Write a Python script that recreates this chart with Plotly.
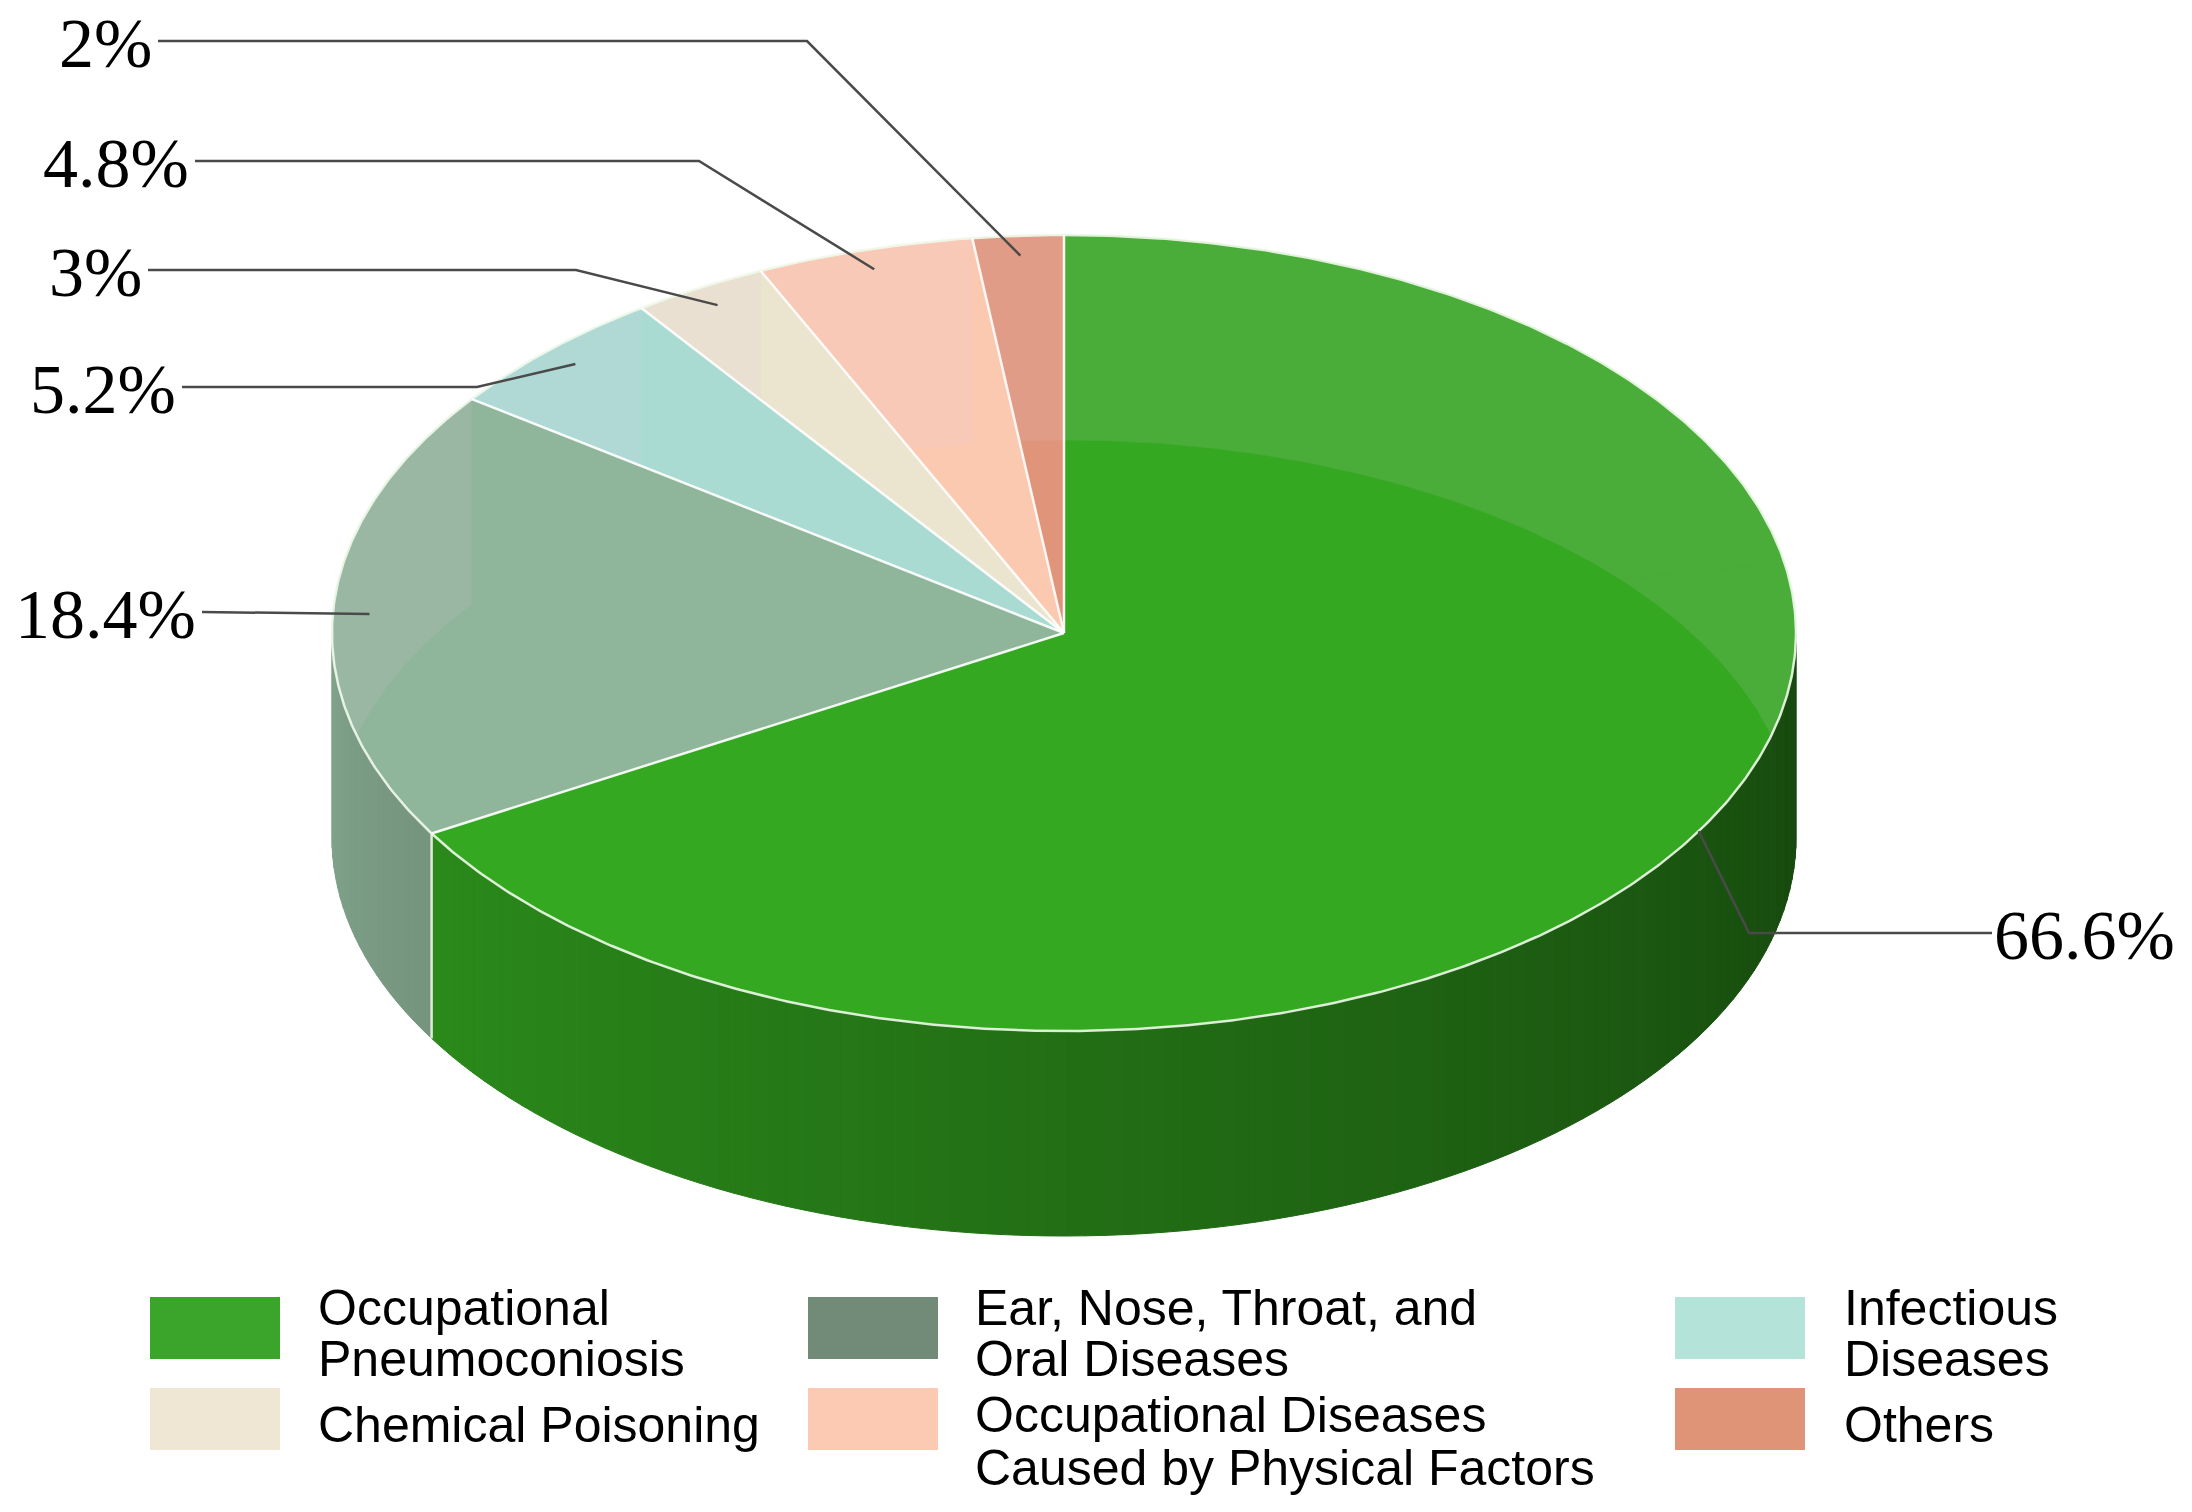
import numpy as np
import plotly.graph_objects as go

# data
categories = ["Occupational Pneumoconiosis", "Ear, Nose, Throat, and Oral Diseases",
              "Infectious Diseases", "Chemical Poisoning",
              "Occupational Diseases Caused by Physical Factors", "Others"]
shares = [66.6, 18.4, 5.2, 3.0, 4.8, 2.0]
pct_labels = ["66.6%", "18.4%", "5.2%", "3%", "4.8%", "2%"]
legend_lines = [["Occupational", "Pneumoconiosis"],
                ["Ear, Nose, Throat, and", "Oral Diseases"],
                ["Infectious", "Diseases"],
                ["Chemical Poisoning"],
                ["Occupational Diseases", "Caused by Physical Factors"],
                ["Others"]]

# colours
top_colors = ["#34a820", "#8fb59a", "#a9dbd3", "#ebe4cf", "#fac9b0", "#e0957a"]
legend_colors = ["#3aa52a", "#728a78", "#b3e3d9", "#efe7d3", "#fccab2", "#df9377"]

# page size (body margin is removed below so plot pixels == page pixels)
W, H = 2192, 1512
# pie geometry in page pixels
CX, CY, RX, RY, DEPTH = 1064, 633, 732, 398, 205

# label leader layout: (elbow, line end near text, text side)
label_layout = [
    ((1749, 933), (1992, 933), "left"),
    (None, (202, 612), "right"),
    ((477, 387), (182, 387), "right"),
    ((576, 270), (148, 270), "right"),
    ((699, 161), (195, 161), "right"),
    ((807, 41), (158, 41), "right"),
]


def hex_rgb(c):
    c = c.lstrip("#")
    return np.array([int(c[i:i + 2], 16) for i in (0, 2, 4)], dtype=float)


def rgb_str(v, alpha=None):
    v = np.clip(v, 0, 255).round().astype(int)
    if alpha is None:
        return f"rgb({v[0]},{v[1]},{v[2]})"
    return f"rgba({v[0]},{v[1]},{v[2]},{alpha})"


def rim(phi, r=1.0, dy=0.0):
    t = np.radians(phi)
    return CX + r * RX * np.sin(t), CY - r * RY * np.cos(t) + dy


def arc(a0, a1, dy=0.0):
    n = max(int(abs(a1 - a0) / 0.5) + 2, 3)
    return rim(np.linspace(a0, a1, n), 1.0, dy)


def overlap(a0, a1, lo, hi):
    s, e = max(a0, lo), min(a1, hi)
    return (s, e) if e > s else None


def clip(subject, clipper):
    # Sutherland-Hodgman, clipper must be convex
    cx_, cy_ = np.array(clipper).T
    s = np.sign(np.sum(cx_ * np.roll(cy_, -1) - np.roll(cx_, -1) * cy_))

    def inside(p, a, b):
        return ((b[0] - a[0]) * (p[1] - a[1]) - (b[1] - a[1]) * (p[0] - a[0])) * s >= 0

    def cross_pt(p, q, a, b):
        d1 = (q[0] - p[0], q[1] - p[1])
        d2 = (b[0] - a[0], b[1] - a[1])
        den = d1[0] * d2[1] - d1[1] * d2[0]
        t = ((a[0] - p[0]) * d2[1] - (a[1] - p[1]) * d2[0]) / den
        return (p[0] + t * d1[0], p[1] + t * d1[1])

    out = list(subject)
    for k in range(len(clipper)):
        a, b = clipper[k], clipper[(k + 1) % len(clipper)]
        inp, out = out, []
        if not inp:
            break
        prev = inp[-1]
        for cur in inp:
            if inside(cur, a, b):
                if not inside(prev, a, b):
                    out.append(cross_pt(prev, cur, a, b))
                out.append(cur)
            elif inside(prev, a, b):
                out.append(cross_pt(prev, cur, a, b))
            prev = cur
    return out


def poly(fig, xs, ys, color, line_color=None, lw=0):
    fig.add_trace(go.Scatter(
        x=list(xs), y=list(ys), mode="lines", fill="toself", fillcolor=color,
        line=dict(color=line_color or color, width=lw),
        hoverinfo="skip", showlegend=False))


bounds = np.concatenate([[0], np.cumsum(shares)]) / sum(shares) * 360
fig = go.Figure()

# front walls, shaded in thin strips
for i, c in enumerate(top_colors):
    seg = overlap(bounds[i], bounds[i + 1], 90, 270)
    if not seg:
        continue
    edges = np.linspace(seg[0], seg[1], int((seg[1] - seg[0]) / 1.5) + 2)
    for p0, p1 in zip(edges[:-1], edges[1:]):
        mid = (p0 + p1) / 2
        f = 0.42 + (mid - 90) / 180 * 0.48
        col = rgb_str(hex_rgb(c) * f)
        xt, yt = arc(p0, p1)
        xb, yb = arc(p1, p0, DEPTH)
        poly(fig, np.r_[xt, xb, xt[0]], np.r_[yt, yb, yt[0]], col, col, 1)

# top faces
haze = np.array([225, 200, 225])
for i, c in enumerate(top_colors):
    a0, a1 = bounds[i], bounds[i + 1]
    x, y = arc(a0, a1)
    poly(fig, np.r_[CX, x, CX], np.r_[CY, y, CY], c, c, 0.5)
    # glassy sheen: the slice's own back wall showing through the top
    light = rgb_str(hex_rgb(c) * 0.87 + haze * 0.13)
    for lo, hi in ((-90, 90), (270, 450)):
        seg = overlap(a0, a1, lo, hi)
        if not seg:
            continue
        xt, yt = arc(seg[0], seg[1])
        xb, yb = arc(seg[1], seg[0], DEPTH)
        wall = list(zip(np.r_[xt, xb], np.r_[yt, yb]))
        n_chunks = int(np.ceil((a1 - a0) / 90))
        cuts = np.linspace(a0, a1, n_chunks + 1)
        for q0, q1 in zip(cuts[:-1], cuts[1:]):
            sx, sy = arc(q0, q1)
            sector = [(CX, CY)] + list(zip(sx, sy))
            piece = clip(wall, sector)
            if len(piece) > 2:
                px, py = np.array(piece).T
                poly(fig, np.r_[px, px[0]], np.r_[py, py[0]], light, light, 0.5)

# white edges
xr, yr = arc(0, 360)
fig.add_trace(go.Scatter(x=xr, y=yr, mode="lines", line=dict(color="rgba(240,250,235,0.9)", width=2.5),
                         hoverinfo="skip", showlegend=False))
for b in bounds[:-1]:
    ex, ey = rim(b)
    fig.add_trace(go.Scatter(x=[CX, ex], y=[CY, ey], mode="lines",
                             line=dict(color="rgba(255,255,255,0.9)", width=2.5),
                             hoverinfo="skip", showlegend=False))
    if 90 < b < 270:
        fig.add_trace(go.Scatter(x=[ex, ex], y=[ey, ey + DEPTH], mode="lines",
                                 line=dict(color="rgba(235,245,230,0.9)", width=2.5),
                                 hoverinfo="skip", showlegend=False))

# percentage labels with leader lines
annotations = []
for i, txt in enumerate(pct_labels):
    mid = (bounds[i] + bounds[i + 1]) / 2
    elbow, end, side = label_layout[i]
    sx, sy = rim(mid, 1.0 if side == "left" else 0.95)
    xs, ys = [sx], [sy]
    if elbow:
        xs.append(elbow[0])
        ys.append(elbow[1])
    xs.append(end[0])
    ys.append(end[1])
    fig.add_trace(go.Scatter(x=xs, y=ys, mode="lines", line=dict(color="#4a4a4a", width=2.5),
                             hoverinfo="skip", showlegend=False))
    annotations.append(dict(
        x=end[0] + (0 if side == "left" else -4), y=end[1] + 2, text=txt, showarrow=False,
        xanchor=side, yanchor="middle",
        font=dict(family="Liberation Serif, Times New Roman, serif", size=70, color="black")))

# legend drawn by hand: 3 columns, 2 rows
col_swatch_x = [150, 808, 1675]
col_text_x = [316, 973, 1842]
row_top = [1297, 1388]
sw_w, sw_h = 130, 62
shapes = []
for i, lines in enumerate(legend_lines):
    col, row = i % 3, i // 3
    x0, y0 = col_swatch_x[col], row_top[row]
    shapes.append(dict(type="rect", xref="x", yref="y", x0=x0, x1=x0 + sw_w, y0=y0, y1=y0 + sw_h,
                       fillcolor=legend_colors[i], line=dict(width=0), layer="above"))
    yc = y0 + sw_h / 2
    if len(lines) == 1:
        ys = [yc + 6]
    elif row == 0:
        ys = [yc - 20, yc + 31]
    else:
        ys = [yc - 4, yc + 49]
    for ln, ly in zip(lines, ys):
        annotations.append(dict(
            x=col_text_x[col], y=ly, text=ln, showarrow=False, xanchor="left", yanchor="middle",
            font=dict(family="Liberation Sans, Arial, sans-serif", size=50, color="black")))

fig.update_layout(
    width=W, height=H,
    margin=dict(l=0, r=0, t=0, b=0),
    paper_bgcolor="white", plot_bgcolor="white",
    xaxis=dict(range=[0, W], visible=False, fixedrange=True),
    yaxis=dict(range=[H, 0], visible=False, fixedrange=True),
    shapes=shapes,
    annotations=annotations,
    showlegend=False,
)

fig.write_html("out.html", config={"displayModeBar": False},
               post_script="document.body.style.margin='0';")
